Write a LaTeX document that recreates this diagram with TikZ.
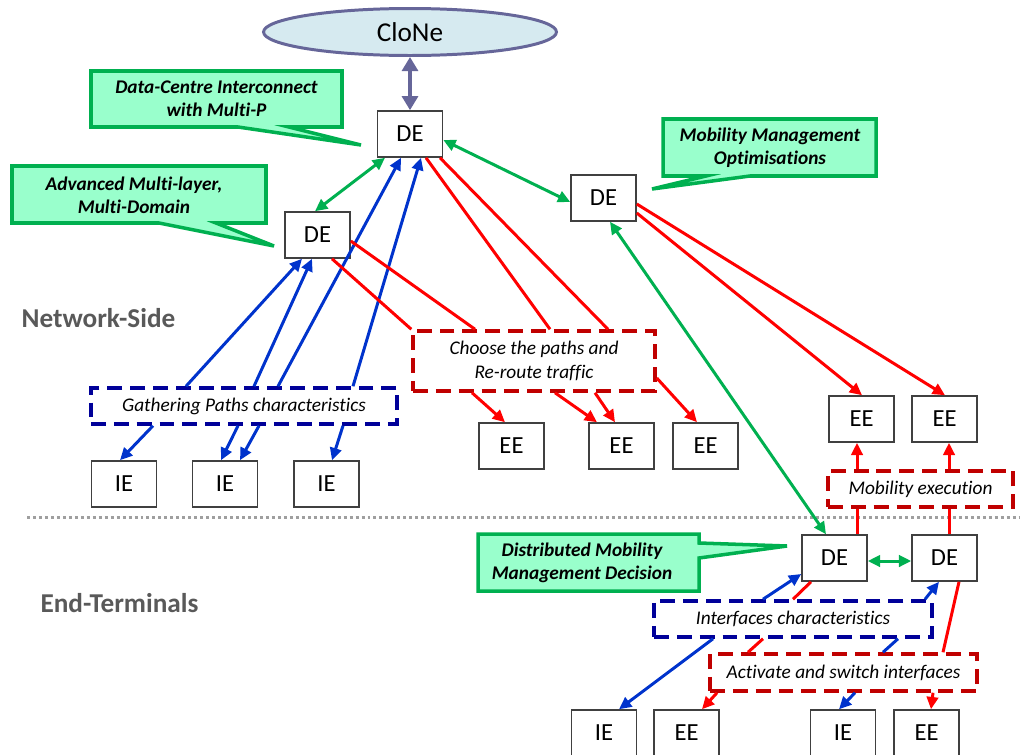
\documentclass[tikz,border=0pt]{standalone}
\usepackage{fontspec}
\setmainfont{Carlito}[Ligatures=NoCommon]
\usetikzlibrary{arrows.meta,shapes.geometric}

\definecolor{calloutfill}{RGB}{153,255,204}
\definecolor{calloutline}{RGB}{0,176,80}
\definecolor{linkgreen}{RGB}{0,176,80}
\definecolor{linkred}{RGB}{255,0,0}
\definecolor{linkblue}{RGB}{0,51,204}
\definecolor{dashblue}{RGB}{0,0,153}
\definecolor{dashred}{RGB}{192,0,0}
\definecolor{boxgray}{RGB}{64,64,64}
\definecolor{clonefill}{RGB}{214,234,240}
\definecolor{cloneline}{RGB}{102,102,153}
\definecolor{sidegray}{RGB}{89,89,89}

\begin{document}
\begin{tikzpicture}[x=0.02cm, y=-0.02cm,
    elem/.style={draw=boxgray, line width=0.9pt, fill=white, inner sep=0pt,
        minimum width=1.3cm, minimum height=0.92cm, font=\fontsize{14}{16}\selectfont},
    dashbox/.style={line width=2pt, dash pattern=on 8.5pt off 4.5pt, fill=white,
        inner sep=0pt, align=center, font=\fontsize{11}{13.6}\selectfont\itshape},
    pathbox/.style={dashbox, draw=dashblue},
    actbox/.style={dashbox, draw=dashred},
    callout/.style={fill=calloutfill, draw=calloutline, line width=2pt},
    callouttext/.style={align=center, font=\fontsize{11}{13}\selectfont\bfseries\itshape},
    sidelabel/.style={text=sidegray, font=\fontsize{15.5}{18}\selectfont\bfseries},
    tip/.style={-{Triangle[length=7pt,width=6.5pt]}},
    glink/.style={linkgreen, line width=1.7pt,
        {Triangle[length=7pt,width=6.5pt]}-{Triangle[length=7pt,width=6.5pt]}},
    blink/.style={linkblue, line width=1.7pt},
    rlink/.style={linkred, line width=1.7pt}]

\useasboundingbox (0,0) rectangle (1020,754);

% Separator between network side and terminals
\draw[gray!75, line width=1.7pt, dash pattern=on 1.7pt off 1.7pt] (27,517) -- (1020,517);

\node[sidelabel] (netside) at (98.5,318) {Network-Side};
\node[sidelabel] (endterm) at (119.5,603) {End-Terminals};

% Callouts
\filldraw[callout] (91,71) -- (342,71) -- (342,127) -- (289,127) -- (361,145)
    -- (238,127) -- (91,127) -- cycle;
\node[callouttext] (dci) at (216.5,99) {Data-Centre Interconnect\\with Multi-P};

\filldraw[callout] (12,166) -- (266,166) -- (266,223) -- (216,223) -- (274,246)
    -- (159,223) -- (12,223) -- cycle;
\node[callouttext] (aml) at (134,195.5) {Advanced Multi-layer,\\Multi-Domain};

\filldraw[callout] (663,119) -- (876,119) -- (876,176) -- (750,176) -- (652,189)
    -- (706,176) -- (663,176) -- cycle;
\node[callouttext] (mmo) at (770,148) {Mobility Management\\Optimisations};

\filldraw[callout] (478,534) -- (699,534) -- (699,543) -- (787,546) -- (699,558)
    -- (699,591) -- (478,591) -- cycle;
\node[callouttext] (dmm) at (582,563) {Distributed Mobility\\Management Decision};

% CloNe and decision elements
\node[ellipse, draw=cloneline, line width=1.7pt, fill=clonefill, minimum width=5.86cm,
    minimum height=0.94cm, font=\fontsize{15.5}{18}\selectfont] (clone) at (410,32) {CloNe};

\node[elem] (de1) at (410,134) {DE};
\node[elem] (de2) at (317.5,235) {DE};
\node[elem] (de3) at (603.5,198) {DE};
\node[elem] (de4) at (834.5,558) {DE};
\node[elem] (de5) at (944.5,558) {DE};

% Network-side elements
\node[elem] (ie1) at (124,484) {IE};
\node[elem] (ie2) at (225,484) {IE};
\node[elem] (ie3) at (326.5,484) {IE};
\node[elem] (ee1) at (511.5,446) {EE};
\node[elem] (ee2) at (621.5,446) {EE};
\node[elem] (ee3) at (705.5,446) {EE};
\node[elem] (ee4) at (861.5,419) {EE};
\node[elem] (ee5) at (944.5,419) {EE};

% Terminal elements
\node[elem] (ie4) at (604,733) {IE};
\node[elem] (ee6) at (686.5,733) {EE};
\node[elem] (ie5) at (843,733) {IE};
\node[elem] (ee7) at (926.5,733) {EE};

% Dashed functions
\node[pathbox, minimum width=6.12cm, minimum height=0.72cm] (gath) at (244,406)
    {Gathering Paths characteristics};
\node[actbox, minimum width=4.84cm, minimum height=1.2cm] (choose) at (534,361)
    {Choose the paths and\\Re-route traffic};
\node[actbox, minimum width=3.7cm, minimum height=0.72cm] (mobexec) at (920.5,489)
    {Mobility execution};
\node[pathbox, minimum width=5.56cm, minimum height=0.72cm] (iface) at (793,619)
    {Interfaces characteristics};
\node[actbox, minimum width=5.34cm, minimum height=0.74cm] (activate) at (843.5,672.5)
    {Activate and switch interfaces};

% CloNe link
\draw[cloneline, line width=2.8pt,
    {Triangle[length=8pt,width=9pt]}-{Triangle[length=8pt,width=9pt]}]
    (clone.south) -- (de1.north);

% Green links between DEs
\draw[glink] (de1.south -| 385,0) -- (de2.north -| 315,0);
\draw[glink] (de1.east |- 0,140) -- (de3.west |- 0,202);
\draw[glink] (de3.south -| 610,0) -- (de4.north -| 826,0);
\draw[glink] (de4.east |- 0,561) -- (de5.west |- 0,561);

% Gathering paths (blue)
\draw[blink, tip] (gath.north -| 186,0) -- (de2.south -| 302,0);
\draw[blink, tip] (gath.north -| 254,0) -- (de2.south -| 312,0);
\draw[blink, tip] (gath.north -| 278,0) -- (de1.south -| 401,0);
\draw[blink, tip] (gath.north -| 353,0) -- (de1.south -| 421,0);
\draw[blink, tip] (gath.south -| 153,0) -- (ie1.north -| 120,0);
\draw[blink, tip] (gath.south -| 238,0) -- (ie2.north -| 221,0);
\draw[blink, tip] (gath.south -| 259,0) -- (ie2.north -| 240,0);
\draw[blink, tip] (gath.south -| 343,0) -- (ie3.north -| 332,0);

% Choose and re-route (red)
\draw[rlink] (de2.east |- 0,241) -- (choose.north -| 475,0);
\draw[rlink] (de2.south -| 332,0) -- (choose.north west);
\draw[rlink] (de1.south -| 426,0) -- (choose.north -| 550,0);
\draw[rlink] (de1.south -| 440,0) -- (choose.north -| 608,0);
\draw[rlink, tip] (choose.south -| 472,0) -- (ee1.north -| 505,0);
\draw[rlink, tip] (choose.south -| 555,0) -- (ee2.north -| 597,0);
\draw[rlink, tip] (choose.south -| 595,0) -- (ee2.north -| 615,0);
\draw[rlink, tip] (choose.east |- 0,378) -- (ee3.north -| 697,0);
\draw[rlink, tip] (de3.east |- 0,213) -- (ee4.north -| 862,0);
\draw[rlink, tip] (de3.east |- 0,204) -- (ee5.north -| 945,0);

% Mobility execution (red)
\draw[rlink] (de4.north -| 857,0) -- (mobexec.south -| 857,0);
\draw[rlink] (de5.north -| 949,0) -- (mobexec.south -| 949,0);
\draw[rlink, tip] (mobexec.north -| 857,0) -- (ee4.south -| 857,0);
\draw[rlink, tip] (mobexec.north -| 949,0) -- (ee5.south -| 949,0);

% Interfaces characteristics (blue)
\draw[blink, tip] (iface.north -| 763,0) -- (de4.west |- 0,574);
\draw[blink, tip] (iface.north -| 925,0) -- (de5.south -| 939,0);
\draw[blink, tip] (iface.south -| 713,0) -- (ie4.north -| 619,0);
\draw[blink] (iface.south -| 898,0) -- (activate.north -| 883,0);
\draw[blink, tip] (activate.south -| 855,0) -- (ie5.north -| 839,0);

% Activate and switch (red)
\draw[rlink] (de4.south -| 811,0) -- (iface.north -| 793,0);
\draw[rlink] (iface.south -| 763,0) -- (activate.north -| 748,0);
\draw[rlink, tip] (activate.south -| 717,0) -- (ee6.north -| 702,0);
\draw[rlink] (de5.south -| 959,0) -- (activate.north -| 943,0);
\draw[rlink, tip] (activate.south -| 933,0) -- (ee7.north -| 931,0);

\end{tikzpicture}
\end{document}
